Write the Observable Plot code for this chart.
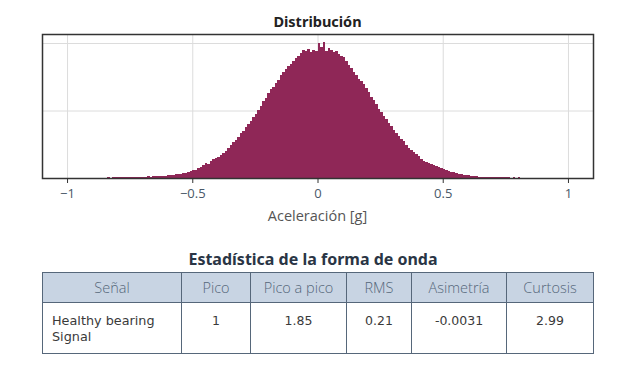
<!DOCTYPE html>
<html>
<head>
<meta charset="utf-8">
<script src="https://cdn.jsdelivr.net/npm/d3@7"></script>
<script src="https://cdn.jsdelivr.net/npm/@observablehq/plot@0.6"></script>
<style>
  html, body { margin: 0; padding: 0; background: #fff; }
  #wrap { position: relative; width: 626px; height: 383px; font-family: "Open Sans", "Noto Sans", sans-serif; }
  #chart { position: absolute; left: 0; top: 0; }
  .t1 { position: absolute; left: 42px; width: 551px; top: 11px; text-align: center; font-family: "Noto Sans", "Open Sans", sans-serif; font-weight: 700; font-size: 14.5px; color: #222; }
  .xl { position: absolute; left: 42px; width: 551px; top: 206px; text-align: center; font-size: 14.5px; color: #555; }
  .t2 { position: absolute; left: 42px; width: 542px; top: 248px; text-align: center; font-family: "Noto Sans", "Open Sans", sans-serif; font-weight: 700; font-size: 16px; color: #2a3545; }
  table { position: absolute; left: 42px; top: 272px; width: 551px; border-collapse: collapse; table-layout: fixed; }
  th, td { border: 1px solid #56677a; }
  th { background: #c8d4e3; height: 29px; font-weight: 300; font-size: 14.5px; color: #55677a; padding: 0; }
  td { height: 40px; vertical-align: top; color: #3a3a3a; padding: 10px 0 0 0; text-align: center; font-family: "DejaVu Sans", sans-serif; font-size: 12.5px; }
  td.first { text-align: left; padding-left: 9px; font-size: 12.8px; line-height: 16px; }
</style>
</head>
<body>
<div id="wrap">
  <div id="chart"></div>
  <div class="t1">Distribución</div>
  <div class="xl">Aceleración [g]</div>
  <div class="t2">Estadística de la forma de onda</div>
  <table id="tbl"></table>
</div>
<script>
// Histogram: bins of width 0.01 starting at -0.85 (acceleration in g); counts (relative units)
const binStart = -0.85;
const binWidth = 0.01;
const counts = [
  0.5, 0.7, 0.5, 0.8, 0.6, 0.9, 0.7, 1.0, 0.8, 1.1,
  0.9, 1.2, 1.0, 1.3, 1.1, 1.5, 1.3, 1.7, 1.5, 1.9,
  1.8, 2.2, 2.0, 2.5, 2.3, 2.8, 3.2, 3.0, 3.6, 4.2,
  4.0, 5.0, 5.5, 6.3, 7.0, 8.0, 8.5, 10, 11, 13,
  15, 14, 17, 19, 20, 21, 23, 25, 27, 30,
  33, 36, 38, 41, 45, 47, 51, 54, 57, 61,
  64, 68, 72, 77, 80, 85, 89, 91, 95, 98,
  103, 106, 109, 112, 114, 117, 120, 122, 125, 128,
  127, 129, 126, 128, 127, 135, 131, 136, 127, 130,
  128, 126, 127, 124, 122, 121, 117, 113, 110, 106,
  103, 99, 97, 94, 90, 86, 81, 78, 74, 69,
  66, 62, 59, 55, 52, 48, 45, 42, 39, 37,
  33, 30, 28, 26, 24, 22, 19, 17, 16, 15,
  14, 13, 12, 11, 10, 9, 8, 7.5, 6.5, 6,
  5, 4.5, 4, 3.2, 3, 2.6, 2.2, 2, 1.7, 1.5,
  1.4, 1.2, 1.1, 1.0, 0.9, 1.0, 0.8, 0.9, 0.7, 0.8,
  0.6, 0.7, 0.5, 0.6, 0.5, 0.6, 0.4, 0.5, 0.3, 0.4,
  0.3
];
const xTicks = [-1, -0.5, 0, 0.5, 1];
const xTickLabels = ["−1", "−0.5", "0", "0.5", "1"];
const yGrid = [67.5, 135];

// Table
const tableHeaders = ["Señal", "Pico", "Pico a pico", "RMS", "Asimetría", "Curtosis"];
const tableRow = ["Healthy bearing Signal", "1", "1.85", "0.21", "-0.0031", "2.99"];
const colWidths = [139, 69, 96, 65, 95, 87];

const bins = counts.map((c, i) => ({
  x1: +(binStart + i * binWidth).toFixed(4),
  x2: +(binStart + (i + 1) * binWidth).toFixed(4),
  count: c
}));

const chart = Plot.plot({
  width: 626,
  height: 230,
  marginLeft: 42,
  marginRight: 33,
  marginTop: 34,
  marginBottom: 52,
  style: { fontFamily: "'Open Sans', sans-serif", background: "transparent" },
  x: { domain: [-1.1, 1.1] },
  y: { domain: [0, 144] },
  marks: [
    Plot.gridX(xTicks, { stroke: "#dcdcdc", strokeOpacity: 1 }),
    Plot.gridY(yGrid, { stroke: "#dcdcdc", strokeOpacity: 1 }),
    Plot.rectY(bins, { x1: "x1", x2: "x2", y: "count", fill: "#8f2757", shapeRendering: "crispEdges" }),
    Plot.frame({ stroke: "#333", strokeWidth: 1.5 }),
    Plot.axisX(xTicks, { tickSize: 5, tickPadding: 5, fontSize: 13, color: "#4a5868", stroke: "#333", label: null,
      tickFormat: (d) => xTickLabels[xTicks.indexOf(d)] }),
    Plot.axisY({ ticks: [], label: null })
  ]
});
document.getElementById("chart").appendChild(chart);

const tbl = document.getElementById("tbl");
const cg = document.createElement("colgroup");
colWidths.forEach(w => { const c = document.createElement("col"); c.style.width = w + "px"; cg.appendChild(c); });
tbl.appendChild(cg);
const trh = document.createElement("tr");
tableHeaders.forEach(h => { const th = document.createElement("th"); th.textContent = h; trh.appendChild(th); });
tbl.appendChild(trh);
const trb = document.createElement("tr");
tableRow.forEach((v, i) => { const td = document.createElement("td"); td.textContent = v; if (i === 0) td.className = "first"; trb.appendChild(td); });
tbl.appendChild(trb);
</script>
</body>
</html>
